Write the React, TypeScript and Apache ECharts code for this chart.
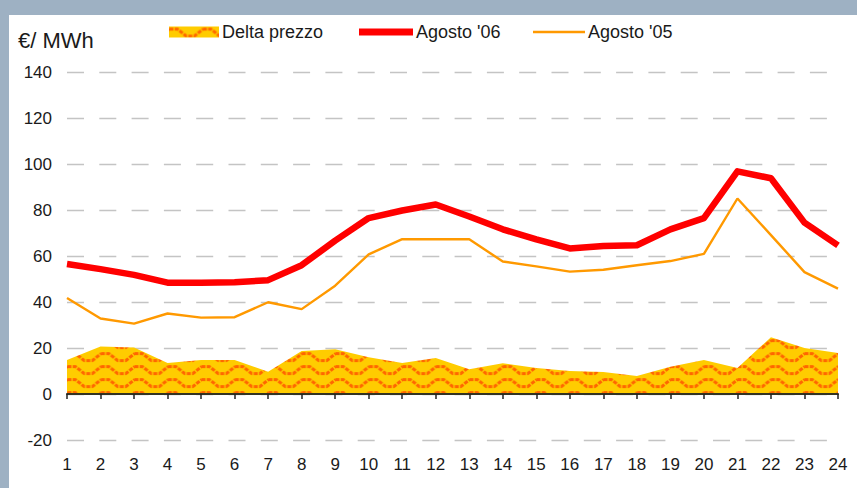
import React, { useEffect, useRef } from "react";
import * as echarts from "echarts";

const hours = ["1","2","3","4","5","6","7","8","9","10","11","12","13","14","15","16","17","18","19","20","21","22","23","24"];
const agosto06 = [56.5, 54.3, 51.8, 48.4, 48.4, 48.6, 49.5, 56, 66.7, 76.5, 79.8, 82.4, 77.2, 71.6, 67.2, 63.3, 64.3, 64.7, 71.6, 76.5, 96.8, 93.8, 74.5, 64.6];
const agosto05 = [41.7, 32.8, 30.6, 35, 33.2, 33.4, 39.9, 36.9, 47.1, 60.7, 67.3, 67.3, 67.3, 57.6, 55.5, 53.2, 54, 56, 57.8, 60.9, 85, 69.1, 53, 45.8];
const deltaPrezzo = [14.8, 20.6, 20.2, 13.5, 14.8, 14.8, 9.7, 18.7, 19.5, 16, 13.5, 15.6, 10.8, 13.4, 11.3, 10, 9.6, 7.8, 11.8, 14.8, 11.3, 24.7, 20, 17.8];
const yMin = -20;
const yMax = 140;
const yStep = 20;
const seriesNames = ["Delta prezzo", "Agosto '06", "Agosto '05"];
const unitLabel = "€/ MWh";

const FONT = "'Liberation Sans', Arial, sans-serif";

function makePattern() {
  const scale = 2;
  const w = 33.5;
  const h = 13;
  const c = document.createElement("canvas");
  c.width = Math.round(w * scale);
  c.height = Math.round(h * scale);
  const ctx = c.getContext("2d")!;
  ctx.scale(scale, scale);
  ctx.fillStyle = "#ffcc00";
  ctx.fillRect(0, 0, w, h);
  ctx.strokeStyle = "#ff6600";
  ctx.lineWidth = 3;
  ctx.lineJoin = "miter";
  ctx.setLineDash([4, 1.3]);
  const top = 2.6;
  const bot = 9.6;
  for (let off = -w; off <= w; off += w) {
    ctx.beginPath();
    ctx.moveTo(off + 0.5, top);
    ctx.lineTo(off + 8.5, top);
    ctx.lineTo(off + 17.25, bot);
    ctx.lineTo(off + 25.25, bot);
    ctx.lineTo(off + 34, top);
    ctx.stroke();
  }
  return {
    image: c.toDataURL(),
    imageWidth: w,
    imageHeight: h,
    repeat: "repeat",
  };
}

export default function App() {
  const ref = useRef<HTMLDivElement>(null);

  useEffect(() => {
    if (!ref.current) return;
    const chart = echarts.init(ref.current, undefined, { renderer: "svg" });
    const pattern: any = makePattern();

    const legendBase = {
      orient: "horizontal",
      top: 23,
      padding: 0,
      itemHeight: 11,
      selectedMode: false,
      textStyle: { fontFamily: FONT, fontSize: 18, color: "#1a1a1a", padding: [0, 0, 0, -2] },
      itemStyle: { borderWidth: 0 },
    };

    chart.setOption({
      animation: false,
      backgroundColor: "transparent",
      textStyle: { fontFamily: FONT },
      legend: [
        {
          ...legendBase,
          left: 169,
          itemWidth: 50,
          data: [{ name: seriesNames[0], icon: "rect", itemStyle: { color: pattern, borderWidth: 0 } }],
        },
        {
          ...legendBase,
          left: 359,
          itemWidth: 54,
          data: [{ name: seriesNames[1], icon: "path://M0,0H54V7H0Z", itemStyle: { color: "#ff0000", borderWidth: 0 } }],
        },
        {
          ...legendBase,
          left: 533,
          itemWidth: 52,
          data: [{ name: seriesNames[2], icon: "path://M0,0H52V2.4H0Z", itemStyle: { color: "#ff9900", borderWidth: 0 } }],
        },
      ],
      graphic: [
        {
          type: "text",
          left: 18,
          top: 29,
          style: { text: unitLabel, fontFamily: FONT, fontSize: 22, fill: "#1a1a1a" },
        },
      ],
      grid: { left: 67, right: 19, top: 72, bottom: 48, containLabel: false },
      xAxis: [
        {
          type: "category",
          data: hours,
          boundaryGap: false,
          position: "bottom",
          axisLine: { show: true, onZero: true, lineStyle: { color: "#333322", width: 2 } },
          axisTick: { show: true, length: 5, inside: false, interval: 0, lineStyle: { color: "#222", width: 1.5 } },
          axisLabel: { show: false },
          splitLine: { show: false },
          z: 10,
        },
        {
          type: "category",
          data: hours,
          boundaryGap: false,
          position: "bottom",
          axisLine: { show: false, onZero: false },
          axisTick: { show: false },
          axisLabel: { show: true, interval: 0, margin: 16, fontSize: 17, color: "#1a1a1a", fontFamily: FONT },
          splitLine: { show: false },
        },
      ],
      yAxis: {
        type: "value",
        min: yMin,
        max: yMax,
        interval: yStep,
        axisLine: { show: false },
        axisTick: { show: false },
        axisLabel: { margin: 15, fontSize: 17, color: "#1a1a1a", fontFamily: FONT },
        splitLine: { show: true, lineStyle: { color: "#c4c4c4", width: 1.3, type: [17, 15.3] } },
      },
      series: [
        {
          name: seriesNames[0],
          type: "line",
          xAxisIndex: 0,
          data: deltaPrezzo,
          symbol: "none",
          color: "#ffcc00",
          lineStyle: { width: 0, color: "#ffcc00" },
          areaStyle: { color: pattern, opacity: 1 },
          z: 2,
        },
        {
          name: seriesNames[1],
          type: "line",
          xAxisIndex: 0,
          data: agosto06,
          symbol: "none",
          color: "#ff0000",
          lineStyle: { width: 6.5, color: "#ff0000", join: "round" },
          z: 4,
        },
        {
          name: seriesNames[2],
          type: "line",
          xAxisIndex: 0,
          data: agosto05,
          symbol: "none",
          color: "#ff9900",
          lineStyle: { width: 2.4, color: "#ff9900" },
          z: 3,
        },
      ],
    });

    return () => chart.dispose();
  }, []);

  return (
    <div style={{ position: "absolute", left: 0, top: 0, width: 857, height: 488, background: "#9eb1c3", overflow: "hidden" }}>
      <div style={{ position: "absolute", left: 9, top: 15, right: 0, bottom: 0, background: "#ffffff" }} />
      <div ref={ref} style={{ position: "absolute", left: 0, top: 0, width: 857, height: 488 }} />
    </div>
  );
}
